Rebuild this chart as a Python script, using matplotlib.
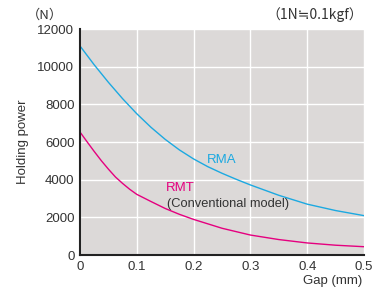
import numpy as np
import matplotlib.pyplot as plt

plt.rcParams['font.family'] = ['Liberation Sans', 'DejaVu Sans']

# Data
gap_rma = [0, 0.025, 0.05, 0.075, 0.1, 0.125, 0.15, 0.175, 0.2, 0.225, 0.25,
           0.275, 0.3, 0.35, 0.4, 0.45, 0.5]
rma = [11100, 10100, 9170, 8300, 7500, 6780, 6140, 5580, 5100, 4690, 4340,
       4020, 3720, 3170, 2700, 2360, 2090]

gap_rmt = [0, 0.0125, 0.025, 0.0375, 0.05, 0.0625, 0.075, 0.0875, 0.1, 0.125,
           0.15, 0.175, 0.2, 0.25, 0.3, 0.35, 0.4, 0.45, 0.5]
rmt = [6530, 6010, 5500, 5010, 4560, 4140, 3800, 3490, 3220, 2840,
       2470, 2160, 1890, 1420, 1060, 820, 640, 520, 440]

x_ticks = [0, 0.1, 0.2, 0.3, 0.4, 0.5]
x_labels = ['0', '0.1', '0.2', '0.3', '0.4', '0.5']
y_ticks = [0, 2000, 4000, 6000, 8000, 10000, 12000]

rma_color = '#1ca9e1'
rmt_color = '#e5007f'
text_color = '#333333'

fig = plt.figure(figsize=(3.84, 2.91), dpi=100)
ax = fig.add_axes([0.2083, 0.1237, 0.7397, 0.7766])
ax.set_facecolor('#dcd9d8')

ax.plot(gap_rma, rma, color=rma_color, linewidth=1.0)
ax.plot(gap_rmt, rmt, color=rmt_color, linewidth=1.0)

ax.set_xlim(0, 0.5)
ax.set_ylim(0, 12000)
ax.set_xticks(x_ticks)
ax.set_xticklabels(x_labels)
ax.set_yticks(y_ticks)
ax.tick_params(length=0, labelsize=9.5, colors=text_color, pad=4)

ax.grid(True, color='white', linewidth=1.0)
ax.set_axisbelow(True)

for s in ['top', 'right']:
    ax.spines[s].set_visible(False)
for s in ['left', 'bottom']:
    ax.spines[s].set_color('#222222')
    ax.spines[s].set_linewidth(1.5)

ax.set_ylabel('Holding power', fontsize=9.5, color=text_color, labelpad=6)

ax.text(0.223, 5040, 'RMA', color=rma_color, fontsize=9.5, va='center', ha='left')
ax.text(0.152, 3550, 'RMT', color=rmt_color, fontsize=9.5, va='center', ha='left')
ax.text(0.154, 2700, '(Conventional model)', color=text_color, fontsize=9.3,
        va='center', ha='left')

fig.text(45 / 384, 1 - 15 / 291, '（N）', fontsize=9.5, color=text_color,
         ha='center', va='center', family=['Noto Sans CJK JP', 'DejaVu Sans'])
fig.text(363 / 384, 1 - 15 / 291, '（1N≒0.1kgf）', fontsize=10, color=text_color,
         ha='right', va='center', family=['Noto Sans CJK JP', 'DejaVu Sans'])
fig.text(362 / 384, 1 - 281 / 291, 'Gap (mm)', fontsize=9.5, color=text_color,
         ha='right', va='center')

fig.savefig('out.png', dpi=100)
